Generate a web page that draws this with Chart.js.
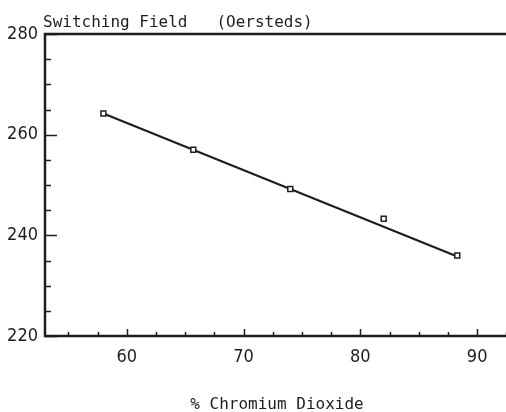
<!DOCTYPE html>
<html>
<head>
<meta charset="utf-8">
<script src="https://cdn.jsdelivr.net/npm/chart.js@4"></script>
<style>
  html, body { margin: 0; padding: 0; background: #fff; }
  #wrap { width: 506px; height: 412px; }
</style>
</head>
<body>
<div id="wrap"><canvas id="switchChart" width="506" height="412"></canvas></div>
<script>
// measured points: % CrO2 vs switching field
const chromiumPct = [58, 65.7, 74, 82, 88.3];
const switchingField = [264.2, 257, 249.2, 243.3, 236];

// ends of the fitted straight line
const fitX = [58, 88.3];
const fitY = [264.2, 235.8];

// axis ticks
const xMajorTicks = [60, 70, 80, 90];
const xMinorTicks = [55, 57.5, 62.5, 65, 67.5, 72.5, 75, 77.5, 82.5, 85, 87.5, 92.5];
const yMajorTicks = [220, 240, 260, 280];
const yMinorTicks = [225, 230, 235, 245, 250, 255, 265, 270, 275];

const ink = '#1e1e1e';
const titleFont = 'DejaVu Sans Mono';
const tickFont = 'DejaVu Sans Condensed';

// draws the axis frame, inward ticks and the two titles
const plotterAxes = {
    id: 'plotterAxes',
    afterDraw(chart) {
        const { ctx, chartArea, scales } = chart;
        const x = scales.x, y = scales.y;
        ctx.save();
        ctx.strokeStyle = ink;
        ctx.lineWidth = 2.5;
        ctx.beginPath();
        ctx.moveTo(chart.width, chartArea.top);
        ctx.lineTo(chartArea.left, chartArea.top);
        ctx.lineTo(chartArea.left, chartArea.bottom);
        ctx.lineTo(chart.width, chartArea.bottom);
        ctx.stroke();

        ctx.lineWidth = 1.5;
        ctx.beginPath();
        xMajorTicks.concat(xMinorTicks).forEach((v) => {
            const px = Math.round(x.getPixelForValue(v)) + 0.5;
            const len = xMajorTicks.includes(v) ? 7 : 4;
            ctx.moveTo(px, chartArea.bottom);
            ctx.lineTo(px, chartArea.bottom - len);
        });
        yMajorTicks.concat(yMinorTicks).forEach((v) => {
            const py = Math.round(y.getPixelForValue(v)) + 0.5;
            const len = yMajorTicks.includes(v) ? 12 : 6;
            ctx.moveTo(chartArea.left, py);
            ctx.lineTo(chartArea.left + len, py);
        });
        ctx.stroke();

        ctx.fillStyle = ink;
        ctx.font = '16px "' + titleFont + '"';
        ctx.textBaseline = 'alphabetic';
        ctx.textAlign = 'left';
        ctx.fillText('Switching Field   (Oersteds)', 43, 27);
        ctx.textAlign = 'center';
        ctx.fillText('% Chromium Dioxide', 277, 409);
        ctx.restore();
    }
};

new Chart(document.getElementById('switchChart'), {
    type: 'scatter',
    data: {
        datasets: [
            {
                label: 'fit',
                data: fitX.map((v, i) => ({ x: v, y: fitY[i] })),
                showLine: true,
                borderColor: ink,
                borderWidth: 2.2,
                pointRadius: 0,
                order: 2
            },
            {
                label: 'measured',
                data: chromiumPct.map((v, i) => ({ x: v, y: switchingField[i] })),
                pointStyle: 'rect',
                pointRadius: 3.5,
                pointBorderWidth: 1.5,
                pointBorderColor: ink,
                pointBackgroundColor: '#fff',
                order: 1
            }
        ]
    },
    options: {
        responsive: false,
        animation: false,
        layout: { padding: { top: 34, right: 0, left: 0, bottom: 0 } },
        plugins: {
            legend: { display: false },
            tooltip: { enabled: false }
        },
        scales: {
            x: {
                type: 'linear',
                min: 53,
                max: 92,
                grid: { display: false, drawTicks: false },
                border: { display: false },
                afterBuildTicks: (scale) => {
                    scale.ticks = xMajorTicks.map((v) => ({ value: v }));
                },
                afterFit: (scale) => {
                    scale.height = 76;
                    scale.paddingLeft = 0;
                    scale.paddingRight = 0;
                },
                ticks: {
                    color: ink,
                    padding: 11,
                    maxRotation: 0,
                    font: { family: tickFont, size: 18 }
                }
            },
            y: {
                min: 220,
                max: 280,
                grid: { display: false, drawTicks: false },
                border: { display: false },
                afterBuildTicks: (scale) => {
                    scale.ticks = yMajorTicks.map((v) => ({ value: v }));
                },
                afterFit: (scale) => {
                    scale.width = 45;
                    scale.paddingTop = 0;
                    scale.paddingBottom = 0;
                },
                ticks: {
                    color: ink,
                    padding: 7,
                    font: { family: tickFont, size: 18 }
                }
            }
        }
    },
    plugins: [plotterAxes]
});
</script>
</body>
</html>
